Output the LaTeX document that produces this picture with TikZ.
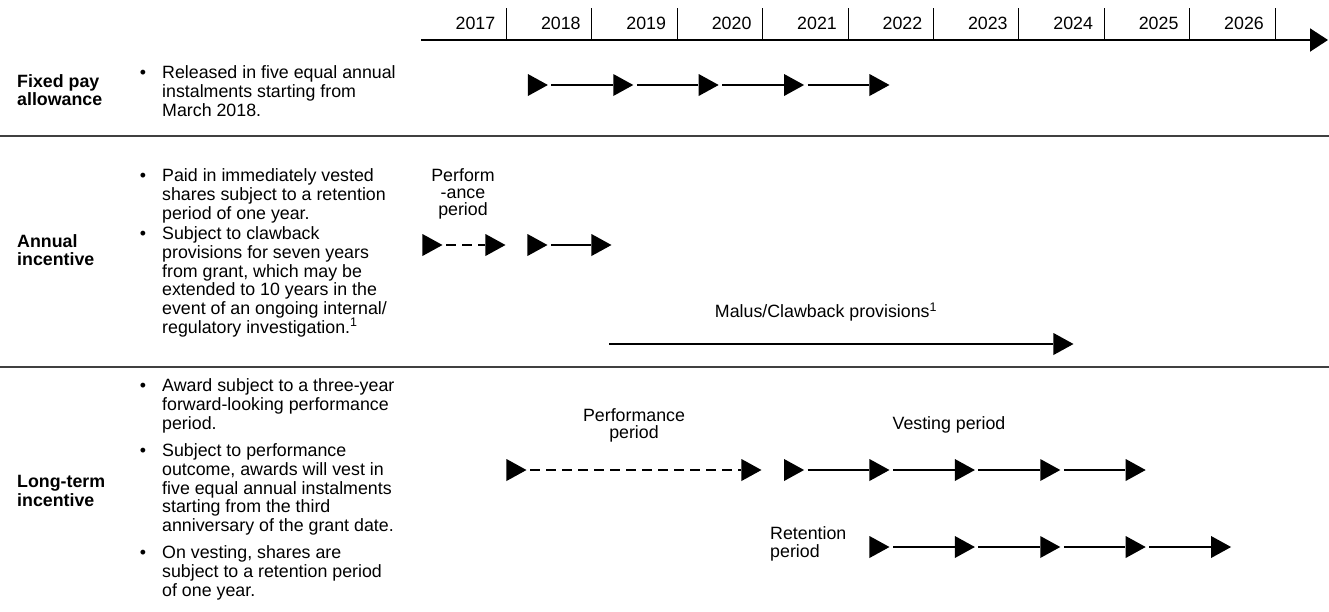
\documentclass[tikz,border=0pt]{standalone}
\usepackage{fontspec}
\setmainfont{Liberation Sans}
\usetikzlibrary{arrows.meta,shapes.geometric}
\newcommand\paytext{\fontsize{17.8}{18.7}\selectfont}
\tikzset{
  tri/.style={isosceles triangle, isosceles triangle stretches, minimum width=22pt,
    minimum height=20pt, inner sep=0pt, fill=black, anchor=apex},
  link/.style={line width=2pt, shorten <=3pt},
  dlink/.style={link, dash pattern=on 10pt off 6pt},
  year/.style={anchor=east, inner sep=0pt},
  yearsep/.style={line width=0.8pt},
  timeline/.style={line width=2pt, -{Triangle[length=18pt,width=23pt]}},
  rowsep/.style={line width=1.5pt, black!75},
  rowlabel/.style={anchor=west, align=left, inner sep=0pt, font=\paytext\bfseries},
  bullettext/.style={anchor=north west, align=left, inner sep=0pt},
  midlabel/.style={align=center, inner sep=0pt, font=\fontsize{17.8}{17}\selectfont}
}
\begin{document}
\begin{tikzpicture}[x=1pt, y=-1pt, font=\paytext]
   \useasboundingbox (0,0) rectangle (1329,611);
   \foreach \yr [count=\i] in {2017,...,2026}{
     \node[year] (y\yr) at ({421+85.4*\i-11},23) {\yr};
     \draw[yearsep] ({421+85.4*\i},8) -- ({421+85.4*\i},40);
   }
   \coordinate (tls) at (421,40);
   \coordinate (tle) at (1328,40);
   \draw[timeline] (tls) -- (tle);
   \draw[rowsep] (0,136) -- (1329,136);
   \draw[rowsep] (0,367) -- (1329,367);
   \node[rowlabel] (fpl) at (17,90) {Fixed pay\\allowance};
   \node[bullettext] (fpt) at (162,65.5) {\llap{\textbullet\hspace{16pt}}Released in five equal annual\\instalments starting from\\March 2018.};
   \foreach \k in {1,...,5} \node[tri] (fp\k) at ({463+85.4*\k},85) {};
   \foreach \a/\b in {1/2,2/3,3/4,4/5} \draw[link] (fp\a) -- (fp\b);
   \node[rowlabel] (ail) at (17,250) {Annual\\incentive};
   \node[bullettext] (ait1) at (162,168.5) {\llap{\textbullet\hspace{16pt}}Paid in immediately vested\\shares subject to a retention\\period of one year.};
   \node[bullettext] (ait2) at (162,226.5) {\llap{\textbullet\hspace{16pt}}Subject to clawback\\provisions for seven years\\from grant, which may be\\extended to 10 years in the\\event of an ongoing internal/\\regulatory investigation.\textsuperscript{1}};
   \node[midlabel, anchor=north] (apl) at (463,168.5) {Perform\\-ance\\period};
   \node[tri] (ap1) at (443,245) {};
   \node[tri] (ap2) at (506,245) {};
   \node[tri] (ap3) at (548,245) {};
   \node[tri] (ap4) at (612,245) {};
   \draw[dlink] (ap1) -- (ap2);
   \draw[link] (ap3) -- (ap4);
   \node[midlabel, anchor=base] (mcl) at (826,317.3) {Malus/Clawback provisions\textsuperscript{1}};
   \coordinate (mcs) at (606,344);
   \node[tri] (mce) at (1074,344) {};
   \draw[link, line width=2.5pt] (mcs) -- (mce);
   \node[rowlabel] (ltl) at (17,491) {Long-term\\incentive};
   \node[bullettext] (ltt1) at (162,378.5) {\llap{\textbullet\hspace{16pt}}Award subject to a three-year\\forward-looking performance\\period.};
   \node[bullettext] (ltt2) at (162,443.5) {\llap{\textbullet\hspace{16pt}}Subject to performance\\outcome, awards will vest in\\five equal annual instalments\\starting from the third\\anniversary of the grant date.};
   \node[bullettext] (ltt3) at (162,545.5) {\llap{\textbullet\hspace{16pt}}On vesting, shares are\\subject to a retention period\\of one year.};
   \node[midlabel, anchor=north] (lpl) at (634,408.5) {Performance\\period};
   \node[tri] (lp1) at (527,470) {};
   \node[tri] (lp2) at (762,470) {};
   \draw[dlink] (lp1) -- (lp2);
   \node[midlabel, anchor=base] (lvl) at (949,429.3) {Vesting period};
   \foreach \k in {4,...,8} \node[tri] (lv\k) at ({463+85.4*\k},470) {};
   \foreach \a/\b in {4/5,5/6,6/7,7/8} \draw[link] (lv\a) -- (lv\b);
   \node[bullettext, font=\fontsize{17.8}{18}\selectfont] (lrl) at (770,526.5) {Retention\\period};
   \foreach \k in {5,...,9} \node[tri] (lr\k) at ({463+85.4*\k},547) {};
   \foreach \a/\b in {5/6,6/7,7/8,8/9} \draw[link] (lr\a) -- (lr\b);
\end{tikzpicture}
\end{document}
